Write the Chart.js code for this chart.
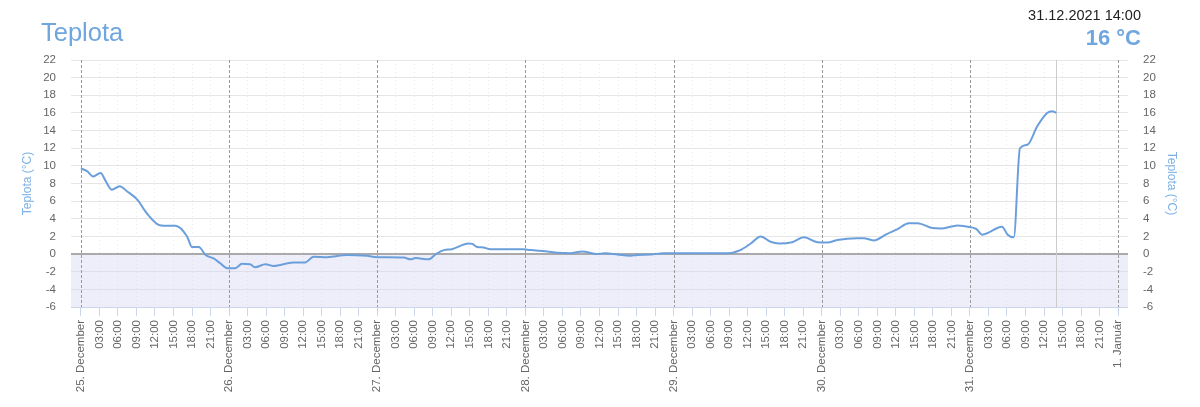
<!DOCTYPE html>
<html>
<head>
<meta charset="utf-8">
<script src="https://cdn.jsdelivr.net/npm/chart.js@4"></script>
<style>
  html, body { margin: 0; padding: 0; background: #fff; }
  #wrap { position: relative; width: 1200px; height: 407px; font-family: "Liberation Sans", Arial, sans-serif; }
  #c { position: absolute; left: 0; top: 0; }
  .title { position: absolute; left: 41px; top: 17px; font-size: 25.5px; color: #6fa6df; line-height: 30px; }
  .time { position: absolute; right: 59px; top: 7px; font-size: 14.5px; color: #222; line-height: 17px; }
  .temp { position: absolute; right: 59px; top: 25px; font-size: 22px; font-weight: bold; color: #6fa6df; line-height: 26px; }
</style>
</head>
<body>
<div id="wrap">
  <canvas id="c" width="1200" height="407"></canvas>
  <div class="title">Teplota</div>
  <div class="time">31.12.2021 14:00</div>
  <div class="temp">16 °C</div>
</div>
<script>
// hours since 25. December 00:00
const hours = [0, 1, 2.0, 3.2, 4, 5.0, 6.3, 7.5, 9.1, 10.7, 12.6, 13.5, 15.3, 17.2, 18.0, 19.1, 20.2, 21.5, 22.5, 23.7,
  25.0, 26.1, 27.4, 28.2, 29.9, 31.2, 34.4, 36.3, 37.7, 39.9, 43.1, 46.3, 48, 52.3, 53.4, 54.2, 56.3, 57.5, 58.8, 60.1,
  62.8, 63.4, 64.2, 65.2, 66.3, 71.7, 72.8, 75.5, 77.1, 79.3, 81.2, 83.6, 84.9, 86.9, 89, 90.1, 92.3, 94.4, 104.7, 106.8,
  108.5, 110.1, 111.7, 113.1, 115.2, 117.1, 119.3, 120.9, 122.5, 125.7, 126.8, 128.4, 130.6, 132.2, 134.1, 135.5, 137.9, 139.3, 142, 144.1,
  145, 146, 149.2, 150.1, 151.1, 152.1, 153.3, 154.9, 156.5, 157.3, 158];
const temps = [9.7, 9.4, 8.8, 9.2, 8.3, 7.3, 7.7, 7.1, 6.2, 4.6, 3.3, 3.2, 3.2, 2.0, 0.8, 0.8, -0.1, -0.5, -1.0, -1.6,
  -1.6, -1.1, -1.15, -1.5, -1.15, -1.35, -0.95, -0.95, -0.3, -0.35, -0.1, -0.2, -0.35, -0.4, -0.6, -0.45, -0.6, 0.0, 0.45, 0.55,
  1.2, 1.15, 0.8, 0.75, 0.55, 0.55, 0.45, 0.3, 0.15, 0.1, 0.3, 0.0, 0.1, -0.05, -0.2, -0.1, -0.05, 0.1, 0.1, 0.45,
  1.2, 2.0, 1.4, 1.2, 1.35, 1.9, 1.35, 1.3, 1.6, 1.8, 1.8, 1.55, 2.3, 2.8, 3.5, 3.5, 2.95, 2.9, 3.25, 3.05,
  2.85, 2.2, 3.1, 2.2, 1.9, 12.0, 12.4, 14.5, 16.0, 16.2, 16.0];
const dayLabels = ['25. December', '26. December', '27. December', '28. December', '29. December', '30. December', '31. December', '1. Január'];
const tickHours = [];
for (let h = 0; h <= 168; h += 3) tickHours.push(h);
const yTicks = [-6, -4, -2, 0, 2, 4, 6, 8, 10, 12, 14, 16, 18, 20, 22];
const nowHour = 158;

const lineColor = '#6a9fdc';
const labelColor = '#666666';
const axisTitleColor = '#7cb0e6';

const points = hours.map((h, i) => ({ x: h, y: temps[i] }));

const decor = {
  id: 'decor',
  beforeDatasetsDraw(chart) {
    const { ctx, chartArea: a, scales } = chart;
    const x = scales.x, y = scales.y;
    ctx.save();
    const y0 = y.getPixelForValue(0);
    const yb = y.getPixelForValue(-6);
    ctx.fillStyle = 'rgba(210,210,245,0.38)';
    ctx.fillRect(a.left, y0, a.right - a.left, yb - y0);
    ctx.strokeStyle = '#aaaaaa';
    ctx.lineWidth = 2;
    ctx.beginPath();
    ctx.moveTo(a.left, y0);
    ctx.lineTo(a.right, y0);
    ctx.stroke();
    const xn = Math.round(x.getPixelForValue(nowHour)) + 0.5;
    ctx.strokeStyle = '#cccccc';
    ctx.lineWidth = 1;
    ctx.beginPath();
    ctx.moveTo(xn, a.top);
    ctx.lineTo(xn, a.bottom);
    ctx.stroke();
    ctx.strokeStyle = '#999999';
    ctx.setLineDash([3, 2]);
    for (let d = 0; d < dayLabels.length; d++) {
      const xd = Math.round(x.getPixelForValue(d * 24)) + 0.5;
      ctx.beginPath();
      ctx.moveTo(xd, a.top);
      ctx.lineTo(xd, a.bottom);
      ctx.stroke();
    }
    ctx.restore();
  }
};

new Chart(document.getElementById('c'), {
  type: 'line',
  data: {
    datasets: [{
      data: points,
      borderColor: lineColor,
      borderWidth: 2,
      pointRadius: 0,
      fill: false,
      tension: 0.4,
      cubicInterpolationMode: 'monotone'
    }]
  },
  options: {
    responsive: false,
    animation: false,
    devicePixelRatio: 1,
    layout: { padding: { top: 60, left: 0, right: 0, bottom: 0 } },
    plugins: { legend: { display: false }, tooltip: { enabled: false }, title: { display: false } },
    scales: {
      x: {
        type: 'linear',
        min: -1.6,
        max: 169.6,
        afterBuildTicks(scale) { scale.ticks = tickHours.map(v => ({ value: v })); },
        afterFit(scale) { scale.height = 100; },
        ticks: {
          autoSkip: false,
          minRotation: 90,
          maxRotation: 90,
          padding: 4,
          color: labelColor,
          font: { family: '"Liberation Sans", Arial, sans-serif', size: 11.5 },
          callback(v) {
            if (v % 24 === 0) return dayLabels[v / 24];
            const hh = v % 24;
            return (hh < 10 ? '0' : '') + hh + ':00';
          }
        },
        grid: {
          color: ctx => (ctx.tick && ctx.tick.value % 24 === 0) ? 'rgba(0,0,0,0)' : '#ebebeb',
          lineWidth: 1,
          tickColor: '#ccd6eb',
          tickLength: 9,
          tickBorderDash: [],
          drawTicks: true
        },
        border: { display: false, dash: [1, 3] }
      },
      y: {
        position: 'left',
        min: -6,
        max: 22,
        afterBuildTicks(scale) { scale.ticks = yTicks.map(v => ({ value: v })); },
        afterFit(scale) { scale.width = 71; },
        ticks: {
          padding: 15,
          color: labelColor,
          font: { family: '"Liberation Sans", Arial, sans-serif', size: 11.5 }
        },
        grid: {
          drawTicks: false,
          color: ctx => ctx.tick && ctx.tick.value === -6 ? '#ccd6eb' : '#e6e6e6',
          lineWidth: 1
        },
        border: { display: false },
        title: {
          display: true,
          text: 'Teplota (°C)',
          color: axisTitleColor,
          font: { family: '"Liberation Sans", Arial, sans-serif', size: 12 },
          padding: { top: 20, bottom: 0 }
        }
      },
      y2: {
        position: 'right',
        min: -6,
        max: 22,
        afterBuildTicks(scale) { scale.ticks = yTicks.map(v => ({ value: v })); },
        afterFit(scale) { scale.width = 72; },
        ticks: {
          padding: 15,
          color: labelColor,
          font: { family: '"Liberation Sans", Arial, sans-serif', size: 11.5 }
        },
        grid: { drawOnChartArea: false, drawTicks: false },
        border: { display: false },
        title: {
          display: true,
          text: 'Teplota (°C)',
          color: axisTitleColor,
          font: { family: '"Liberation Sans", Arial, sans-serif', size: 12 },
          padding: { top: 21, bottom: 0 }
        }
      }
    }
  },
  plugins: [decor]
});
</script>
</body>
</html>
